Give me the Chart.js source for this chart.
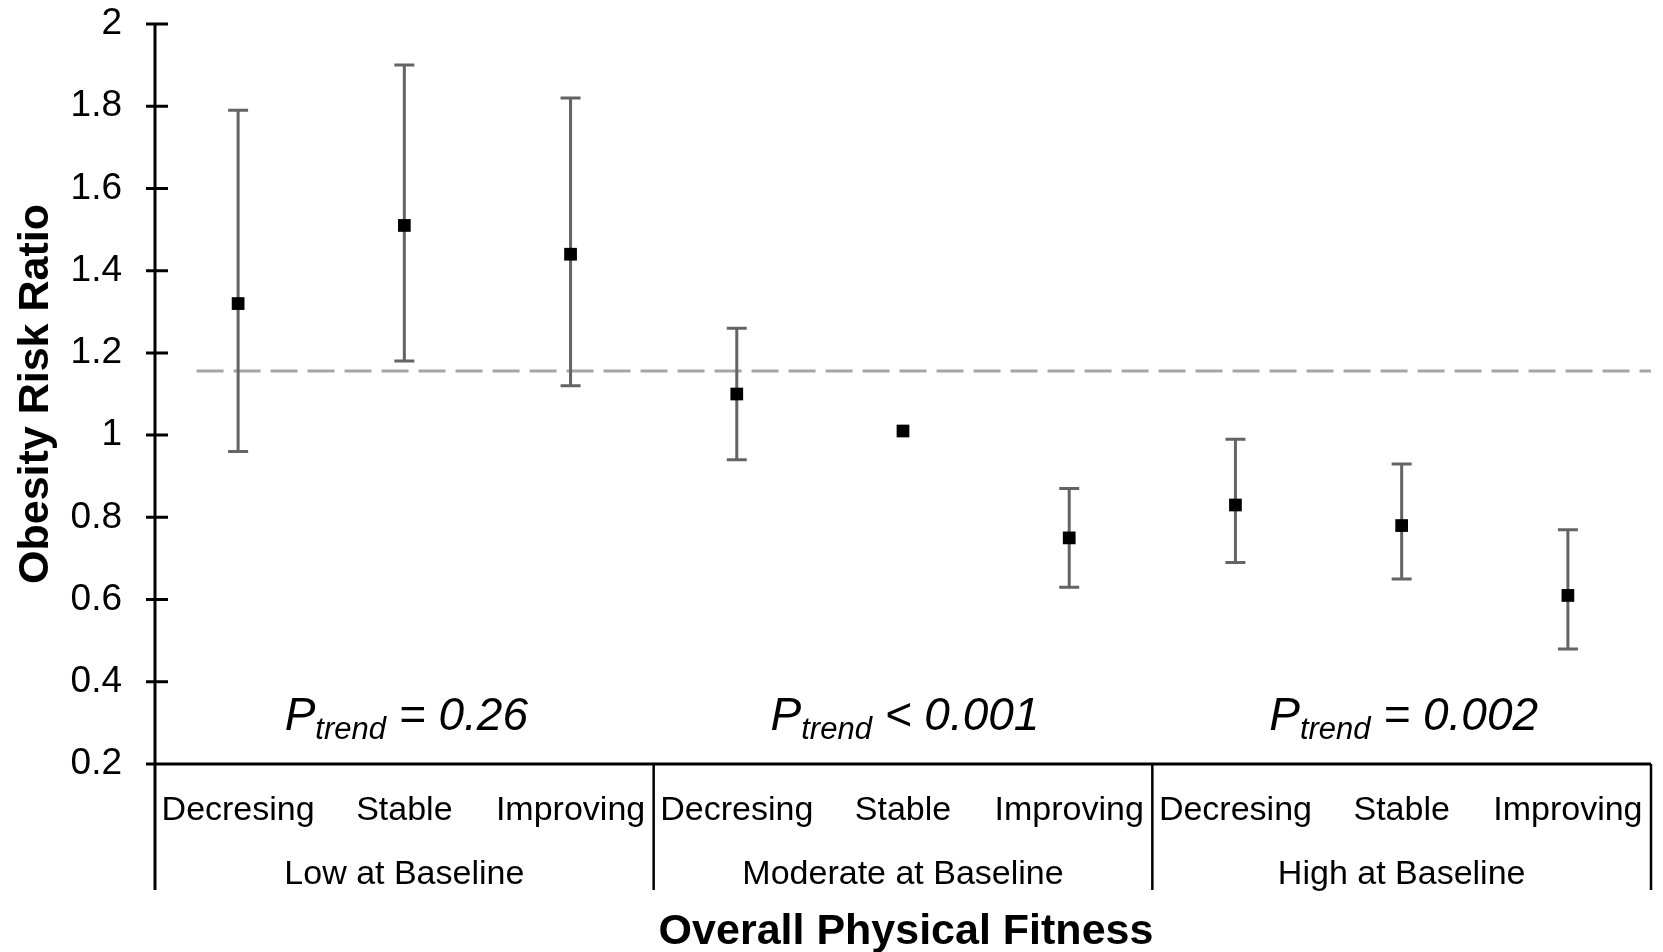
<!DOCTYPE html>
<html>
<head>
<meta charset="utf-8">
<script src="https://cdn.jsdelivr.net/npm/chart.js@4.4.1/dist/chart.umd.min.js"></script>
<style>
  html, body { margin:0; padding:0; background:#fff; }
  #wrap { width:1663px; height:952px; }
</style>
</head>
<body>
<div id="wrap"><canvas id="c" width="1663" height="952"></canvas></div>
<script>
// categories along the x axis (three per baseline group)
const categories = ['Decresing', 'Stable', 'Improving', 'Decresing', 'Stable', 'Improving', 'Decresing', 'Stable', 'Improving'];
const groups     = ['Low at Baseline', 'Moderate at Baseline', 'High at Baseline'];
const pTrend     = ['= 0.26', '< 0.001', '= 0.002'];

// risk ratios with 95% CI
const riskRatio = [1.32, 1.51, 1.44, 1.10, 1.01, 0.75, 0.83, 0.78, 0.61];
const ciLower   = [0.96, 1.18, 1.12, 0.94, null, 0.63, 0.69, 0.65, 0.48];
const ciUpper   = [1.79, 1.90, 1.82, 1.26, null, 0.87, 0.99, 0.93, 0.77];

// dashed reference line
const refLine  = 1.156;
const refStart = 0.25;

const yTicks = [0.2, 0.4, 0.6, 0.8, 1, 1.2, 1.4, 1.6, 1.8, 2];
const yTickLabels = ['0.2', '0.4', '0.6', '0.8', '1', '1.2', '1.4', '1.6', '1.8', '2'];

const FONT = '"Liberation Sans", Arial, sans-serif';
Chart.defaults.font.family = FONT;
Chart.defaults.color = '#000';

const points = riskRatio.map((v, i) => ({ x: i + 0.5, y: v }));

const errorBars = {
  id: 'errorBars',
  afterDatasetDraw(chart, args) {
    if (args.index !== 0) return;
    const { ctx, scales: { x, y } } = chart;
    ctx.save();
    ctx.strokeStyle = '#646464';
    ctx.lineWidth = 3;
    riskRatio.forEach((v, i) => {
      if (ciLower[i] == null) return;
      const px = x.getPixelForValue(i + 0.5);
      const lo = y.getPixelForValue(ciLower[i]);
      const hi = y.getPixelForValue(ciUpper[i]);
      ctx.beginPath();
      ctx.moveTo(px, lo); ctx.lineTo(px, hi);
      ctx.moveTo(px - 10, lo); ctx.lineTo(px + 10, lo);
      ctx.moveTo(px - 10, hi); ctx.lineTo(px + 10, hi);
      ctx.stroke();
    });
    ctx.restore();
  }
};

const frame = {
  id: 'frame',
  afterDraw(chart) {
    const { ctx, chartArea: a, scales: { x, y } } = chart;
    const base = y.getPixelForValue(0.2);
    const bottom = base + 126;
    ctx.save();
    ctx.strokeStyle = '#000';
    ctx.lineWidth = 3;
    ctx.beginPath();
    // y axis + ticks
    ctx.moveTo(a.left, a.top); ctx.lineTo(a.left, bottom);
    yTicks.forEach(t => {
      const py = y.getPixelForValue(t);
      ctx.moveTo(a.left - 9, py); ctx.lineTo(a.left + 13, py);
    });
    // x axis
    ctx.moveTo(a.left, base); ctx.lineTo(a.right, base);
    ctx.stroke();
    // group separators
    ctx.lineWidth = 2.5;
    ctx.beginPath();
    [3, 6, 9].forEach(g => {
      const px = x.getPixelForValue(g);
      ctx.moveTo(px, base); ctx.lineTo(px, bottom);
    });
    ctx.stroke();

    ctx.fillStyle = '#000';
    ctx.textAlign = 'center';
    ctx.textBaseline = 'middle';
    ctx.font = '34px ' + FONT;
    categories.forEach((c, i) => ctx.fillText(c, x.getPixelForValue(i + 0.5), base + 47));
    groups.forEach((g, i) => ctx.fillText(g, x.getPixelForValue(i * 3 + 1.5), base + 111));

    // P trend annotations
    ctx.textAlign = 'left';
    ctx.textBaseline = 'alphabetic';
    pTrend.forEach((txt, i) => {
      const big = 'italic 46px ' + FONT, small = 'italic 31px ' + FONT;
      ctx.font = big;  const wP = ctx.measureText('P').width;
      const wR = ctx.measureText(' ' + txt).width;
      ctx.font = small; const wS = ctx.measureText('trend').width;
      const cx = x.getPixelForValue(i * 3 + 1.5);
      let px = cx - (wP + wS + wR) / 2 + 2;
      const by = base - 34;
      ctx.font = big;   ctx.fillText('P', px, by); px += wP;
      ctx.font = small; ctx.fillText('trend', px, by + 9); px += wS;
      ctx.font = big;   ctx.fillText(' ' + txt, px, by);
    });

    ctx.textAlign = 'center';
    ctx.textBaseline = 'middle';
    ctx.font = 'bold 43px ' + FONT;
    ctx.fillText('Overall Physical Fitness', (a.left + a.right) / 2 + 3, base + 168);
    ctx.restore();
  }
};

new Chart(document.getElementById('c'), {
  type: 'scatter',
  data: {
    datasets: [
      {
        type: 'line',
        data: [{ x: refStart, y: refLine }, { x: 9, y: refLine }],
        borderColor: '#a6a6a6', borderWidth: 3, borderDash: [27, 10],
        pointRadius: 0, fill: false, order: 2,
      },
      {
        data: points,
        pointStyle: 'rect', pointRadius: 9, pointHoverRadius: 9,
        backgroundColor: '#000', borderWidth: 0, order: 1,
      },
    ],
  },
  options: {
    responsive: false, animation: false,
    layout: { padding: { top: 24, right: 12, bottom: 188, left: 0 } },
    plugins: { legend: { display: false }, tooltip: { enabled: false } },
    scales: {
      x: { type: 'linear', min: 0, max: 9, display: false },
      y: {
        min: 0.2, max: 2,
        afterBuildTicks: s => { s.ticks = yTicks.map(v => ({ value: v })); },
        afterFit: s => { s.width = 155; s.paddingTop = 20; s.paddingBottom = 20; },
        grid: { display: false, drawTicks: false },
        border: { display: false },
        ticks: {
          padding: 33, color: '#000', font: { size: 37 },
          callback: (v) => yTickLabels[yTicks.indexOf(+v.toFixed(1))],
        },
        title: {
          display: true, text: 'Obesity Risk Ratio', color: '#000',
          font: { size: 43, weight: 'bold' }, padding: { top: 10, bottom: 0 },
        },
      },
    },
  },
  plugins: [errorBars, frame],
});
</script>
</body>
</html>
